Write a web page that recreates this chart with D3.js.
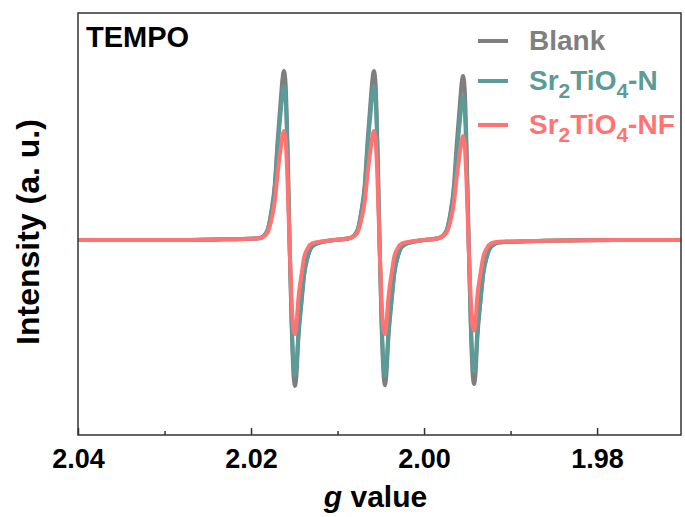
<!DOCTYPE html>
<html>
<head>
<meta charset="utf-8">
<script src="https://cdn.jsdelivr.net/npm/d3@7"></script>
<style>
  body { margin: 0; background: #fff; }
  text { font-family: "Liberation Sans", Arial, sans-serif; font-weight: bold; }
</style>
</head>
<body>
<script>
// EPR spectra, g value axis runs right-to-left
let gTicks = [2.04, 2.02, 2.00, 1.98];
let gMinor = [2.03, 2.01, 1.99];

let gValues = [
  2.04, 2.03, 2.024,
  2.01905, 2.01815, 2.01765, 2.01725, 2.01695, 2.01655, 2.01635, 2.01619, 2.01601, 2.01578, 2.01555,
  2.01532, 2.01509, 2.01491, 2.01475, 2.01455, 2.01415, 2.01385, 2.01345, 2.01295, 2.01205,
  2.01035,
  2.00865, 2.00775, 2.00725, 2.00685, 2.00655, 2.00615, 2.00595, 2.00579, 2.00561, 2.00538, 2.00515,
  2.00492, 2.00469, 2.00451, 2.00435, 2.00415, 2.00375, 2.00345, 2.00305, 2.00255, 2.00165,
  2.0000,
  1.99835, 1.99745, 1.99695, 1.99655, 1.99625, 1.99585, 1.99565, 1.99549, 1.99531, 1.99508, 1.99485,
  1.99462, 1.99439, 1.99421, 1.99405, 1.99385, 1.99345, 1.99315, 1.99275, 1.99225, 1.99135,
  1.986, 1.978, 1.9703
];

let blank = [
  0, 0, 0.003,
  0.01, 0.05, 0.17, 0.33, 0.57, 0.84, 0.96, 1.0, 0.93, 0.55, 0.0,
  -0.48, -0.8, -0.864, -0.8, -0.6, -0.36, -0.2, -0.1, -0.04, -0.015,
  0,
  0.01, 0.05, 0.17, 0.33, 0.57, 0.84, 0.96, 1.0, 0.93, 0.55, 0.0,
  -0.48, -0.79, -0.86, -0.79, -0.6, -0.36, -0.2, -0.1, -0.04, -0.015,
  0,
  0.01, 0.05, 0.16, 0.32, 0.55, 0.81, 0.93, 0.97, 0.9, 0.53, 0.0,
  -0.47, -0.79, -0.852, -0.79, -0.59, -0.35, -0.2, -0.1, -0.04, -0.015,
  -0.005, 0, 0
];

let srN = [
  0, 0, 0.003,
  0.01, 0.05, 0.16, 0.31, 0.53, 0.77, 0.87, 0.91, 0.85, 0.5, 0.0,
  -0.45, -0.74, -0.8, -0.75, -0.57, -0.35, -0.2, -0.1, -0.04, -0.015,
  0,
  0.01, 0.05, 0.16, 0.31, 0.53, 0.77, 0.87, 0.91, 0.85, 0.5, 0.0,
  -0.45, -0.74, -0.8, -0.75, -0.57, -0.35, -0.2, -0.1, -0.04, -0.015,
  0,
  0.01, 0.05, 0.15, 0.29, 0.49, 0.71, 0.81, 0.85, 0.79, 0.46, 0.0,
  -0.44, -0.72, -0.78, -0.73, -0.55, -0.34, -0.19, -0.1, -0.04, -0.015,
  -0.005, 0, 0
];

let srNF = [
  0, 0, 0.003,
  0.01, 0.04, 0.12, 0.23, 0.38, 0.55, 0.62, 0.645, 0.6, 0.35, -0.02,
  -0.35, -0.53, -0.556, -0.5, -0.36, -0.2, -0.1, -0.05, -0.02, -0.01,
  0,
  0.01, 0.04, 0.12, 0.23, 0.38, 0.55, 0.62, 0.645, 0.6, 0.35, -0.02,
  -0.35, -0.53, -0.556, -0.5, -0.36, -0.2, -0.1, -0.05, -0.02, -0.01,
  0,
  0.01, 0.04, 0.11, 0.22, 0.36, 0.52, 0.59, 0.615, 0.57, 0.33, -0.02,
  -0.33, -0.51, -0.535, -0.48, -0.34, -0.19, -0.1, -0.05, -0.02, -0.01,
  -0.005, 0, 0
];

let seriesNames = ["Blank", "Sr2TiO4-N", "Sr2TiO4-NF"];
let seriesColors = ["#7f7f7f", "#5b9b98", "#ff7373"];
let seriesValues = [blank, srN, srNF];

let width = 685;
let height = 517;
let mLeft = 78, mRight = 681, mTop = 13, mBottom = 435;

let svg = d3.select("body").append("svg").attr("width", width).attr("height", height);

let x = d3.scaleLinear().domain([2.04, 1.9703]).range([mLeft, mRight]);
let y = d3.scaleLinear().domain([-1.154, 1.343]).range([mBottom, mTop]);

let line = d3.line()
  .x(d => x(d[0]))
  .y(d => y(d[1]))
  .curve(d3.curveMonotoneX);

seriesValues.forEach((vals, i) => {
  svg.append("path")
    .datum(gValues.map((g, j) => [g, vals[j]]))
    .attr("d", line)
    .attr("fill", "none")
    .attr("stroke", seriesColors[i])
    .attr("stroke-width", 4)
    .attr("stroke-linejoin", "round");
});

// minor ticks
svg.append("g")
  .attr("transform", `translate(0,${mBottom})`)
  .call(d3.axisBottom(x).tickValues(gMinor).tickSize(-4).tickFormat(""))
  .call(g => g.select(".domain").remove())
  .selectAll("line").attr("stroke", "#333").attr("stroke-width", 1.5);

// major ticks and labels
let xAxis = svg.append("g")
  .attr("transform", `translate(0,${mBottom})`)
  .call(d3.axisBottom(x).tickValues(gTicks).tickSize(-7).tickPadding(14).tickFormat(d3.format(".2f")));
xAxis.select(".domain").remove();
xAxis.selectAll("line").attr("stroke", "#333").attr("stroke-width", 1.5);
xAxis.selectAll("text")
  .attr("fill", "#000")
  .style("font-size", "27px")
  .style("font-family", "'Liberation Sans', Arial, sans-serif")
  .style("font-weight", "bold");

// frame
svg.append("rect")
  .attr("x", mLeft)
  .attr("y", mTop)
  .attr("width", mRight - mLeft)
  .attr("height", mBottom - mTop)
  .attr("fill", "none")
  .attr("stroke", "#333")
  .attr("stroke-width", 1.5);

svg.append("text")
  .attr("x", 86)
  .attr("y", 47)
  .attr("font-size", 29)
  .attr("fill", "#000")
  .text("TEMPO");

// axis titles
let xTitle = svg.append("text")
  .attr("x", (mLeft + mRight) / 2 - 4)
  .attr("y", 507)
  .attr("text-anchor", "middle")
  .attr("font-size", 30)
  .attr("fill", "#000");
xTitle.append("tspan").attr("font-style", "italic").text("g");
xTitle.append("tspan").text(" value");

svg.append("text")
  .attr("transform", `translate(39,232) rotate(-90)`)
  .attr("text-anchor", "middle")
  .attr("font-size", 32)
  .attr("fill", "#000")
  .text("Intensity (a. u.)");

// legend
let legendY = [41, 81, 125];
seriesNames.forEach((name, i) => {
  svg.append("line")
    .attr("x1", 478).attr("x2", 508)
    .attr("y1", legendY[i]).attr("y2", legendY[i])
    .attr("stroke", seriesColors[i])
    .attr("stroke-width", 4);
  let t = svg.append("text")
    .attr("x", 529)
    .attr("y", legendY[i] + 9)
    .attr("font-size", 28)
    .attr("fill", seriesColors[i]);
  let sub = false;
  name.split(/(\d)/).filter(s => s.length).forEach(part => {
    let isDigit = /\d/.test(part);
    let dy = isDigit ? 8 : (sub ? -8 : 0);
    t.append("tspan")
      .attr("font-size", isDigit ? 21 : 28)
      .attr("dy", dy)
      .text(part);
    sub = isDigit;
  });
});
</script>
</body>
</html>
